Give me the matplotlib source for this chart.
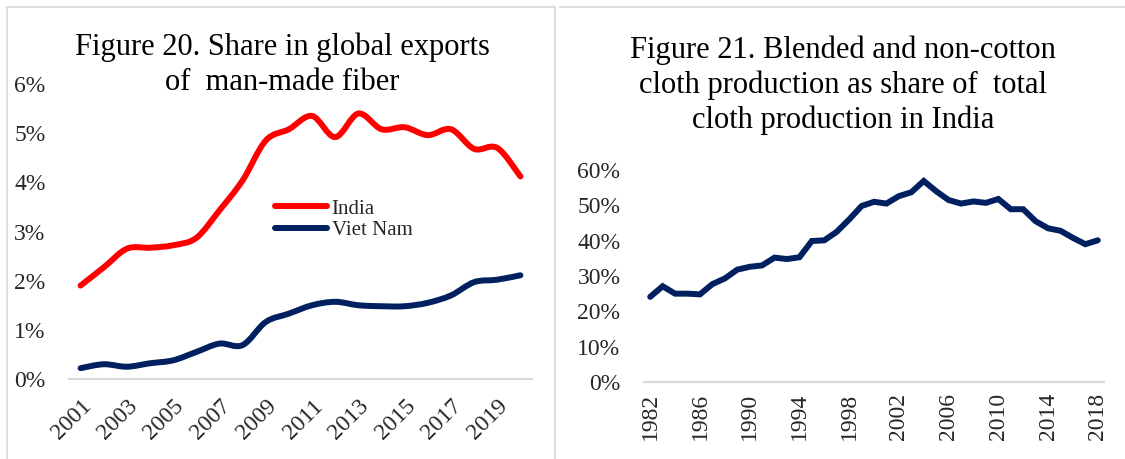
"""Two-panel textile chart: MMF export share and blended cloth share."""

import matplotlib
matplotlib.use("Agg")
import matplotlib.pyplot as plt
import numpy as np
from matplotlib.lines import Line2D
from matplotlib.patches import PathPatch
from matplotlib.path import Path
from matplotlib.ticker import FuncFormatter

# Figure 20: share in global exports of man-made fiber (%)
years_mmf = list(range(2001, 2021))
india_share = [1.90, 2.27, 2.65, 2.67, 2.72, 2.87, 3.43, 4.04, 4.85, 5.08,
               5.35, 4.92, 5.40, 5.08, 5.12, 4.96, 5.08, 4.68, 4.70, 4.12]
vietnam_share = [0.22, 0.30, 0.25, 0.32, 0.38, 0.55, 0.72, 0.69, 1.16, 1.33,
                 1.50, 1.57, 1.50, 1.48, 1.48, 1.55, 1.70, 1.97, 2.02, 2.11]

# Figure 21: blended and non-cotton cloth as share of total production (%)
years_cloth = list(range(1982, 2019))
blended_share = [24.1, 27.1, 25.0, 25.0, 24.8, 27.7, 29.3, 31.8, 32.6, 33.0,
                 35.2, 34.8, 35.3, 39.9, 40.1, 42.5, 46.0, 49.8, 51.0, 50.5,
                 52.6, 53.7, 56.9, 54.0, 51.5, 50.5, 51.1, 50.7, 51.8, 48.9,
                 48.9, 45.5, 43.5, 42.8, 40.8, 39.0, 40.1]

RED = "#FF0000"
NAVY = "#002060"
GRID_GRAY = "#D9D9D9"
TEXT = "#262626"
SERIF = ["Liberation Serif", "DejaVu Serif"]
W, H = 1125, 459

plt.rcParams["font.family"] = SERIF


def smooth_path(x, y):
    """Catmull-Rom style cubic Bezier through the data points."""
    pts = np.column_stack([x, y]).astype(float)
    verts = [pts[0]]
    codes = [Path.MOVETO]
    n = len(pts)
    for i in range(n - 1):
        p0 = pts[i - 1] if i > 0 else pts[i]
        p1 = pts[i]
        p2 = pts[i + 1]
        p3 = pts[i + 2] if i + 2 < n else pts[i + 1]
        c1 = p1 + (p2 - p0) / 6.0
        c2 = p2 - (p3 - p1) / 6.0
        verts += [c1, c2, p2]
        codes += [Path.CURVE4] * 3
    return Path(verts, codes)


def style_axes(ax, n):
    for side in ("top", "right", "left"):
        ax.spines[side].set_visible(False)
    ax.spines["bottom"].set_color(GRID_GRAY)
    ax.spines["bottom"].set_linewidth(1.5)
    ax.set_xlim(-0.5, n - 0.5)
    ax.tick_params(length=0, labelsize=17, colors=TEXT)


def frame_line(x0, y0, x1, y1):
    fig.add_artist(Line2D([x0 / W, x1 / W], [1 - y0 / H, 1 - y1 / H],
                          color=GRID_GRAY, lw=1.2, transform=fig.transFigure))


fig = plt.figure(figsize=(W / 100, H / 100), dpi=100)

# panel frames
frame_line(7, 7, 7, H)
frame_line(555, 7, 555, H)
frame_line(7, 7, 555, 7)
frame_line(560, 7, W, 7)

# ---- Figure 20 ----
ax1 = fig.add_axes([69 / W, 80 / H, 463 / W, 295 / H])
style_axes(ax1, len(years_mmf))
xi = np.arange(len(years_mmf))
for vals, color in ((india_share, RED), (vietnam_share, NAVY)):
    ax1.add_patch(PathPatch(smooth_path(xi, vals), fill=False, edgecolor=color,
                            lw=4.3, capstyle="round", joinstyle="round"))
ax1.set_ylim(0, 6)
ax1.set_yticks(range(0, 7))
ax1.yaxis.set_major_formatter(FuncFormatter(lambda v, _: f"{v:.0f}%"))
ax1.set_xticks(xi[::2])
ax1.set_xticklabels([str(y) for y in years_mmf[::2]], rotation=45,
                    ha="right", va="top", rotation_mode="anchor")
ax1.tick_params(axis="x", pad=12)
ax1.tick_params(axis="y", pad=17)
handles = [Line2D([], [], color=RED, lw=4.3, solid_capstyle="round"),
           Line2D([], [], color=NAVY, lw=4.3, solid_capstyle="round")]
ax1.legend(handles, ["India", "Viet Nam"], loc="center left",
           bbox_to_anchor=(0.405, 0.54), frameon=False, fontsize=15,
           handlelength=2.5, handletextpad=0.2, labelspacing=0.1,
           labelcolor=TEXT)
fig.text(282 / W, 1 - 65 / H, "Figure 20. Share in global exports\nof  man-made fiber",
         ha="center", va="center", fontsize=22, color="black", linespacing=1.25)

# ---- Figure 21 ----
ax2 = fig.add_axes([644 / W, 77 / H, 460 / W, 212 / H])
style_axes(ax2, len(years_cloth))
xj = np.arange(len(years_cloth))
ax2.plot(xj, blended_share, color=NAVY, lw=4.3, solid_capstyle="round",
         solid_joinstyle="miter")
ax2.set_ylim(0, 60)
ax2.set_yticks(range(0, 61, 10))
ax2.yaxis.set_major_formatter(FuncFormatter(lambda v, _: f"{v:.0f}%"))
ax2.set_xticks(xj[::4])
ax2.set_xticklabels([str(y) for y in years_cloth[::4]], rotation=90)
ax2.tick_params(axis="x", pad=8)
ax2.tick_params(axis="y", pad=17)
fig.text(843 / W, 1 - 85 / H,
         "Figure 21. Blended and non-cotton\ncloth production as share of  total\ncloth production in India",
         ha="center", va="center", fontsize=22, color="black", linespacing=1.25)

fig.savefig("out.png", dpi=100)
